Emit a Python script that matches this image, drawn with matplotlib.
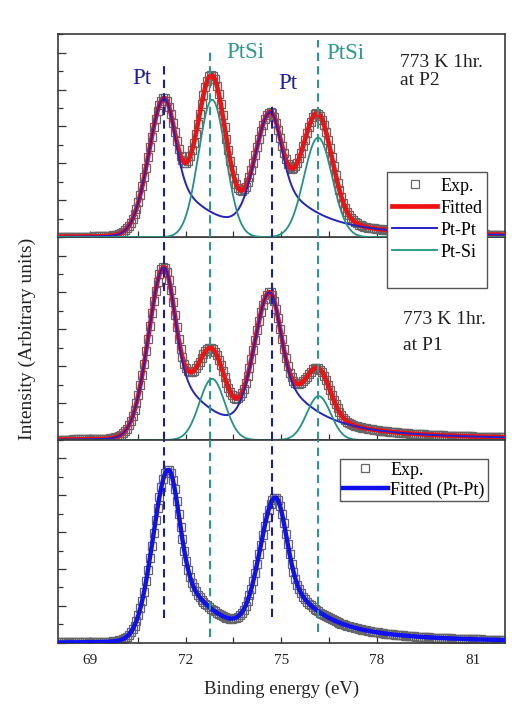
import numpy as np
import matplotlib.pyplot as plt
from matplotlib.lines import Line2D
from matplotlib.ticker import MultipleLocator, FixedLocator, NullFormatter

plt.rcParams['font.family'] = ['Liberation Serif', 'DejaVu Serif']

# binding energy grid of the measured spectra (eV)
energy = np.arange(68.0, 82.001, 0.06)

# Pt-Pt doublet (4f7/2, 4f5/2) per panel, top to bottom
ptpt_centers = [[71.33, 74.66], [71.32, 74.64], [71.46, 74.82]]
ptpt_heights = [[3.76, 3.19], [4.68, 3.76], [4.69, 3.70]]
# Pt-Si doublet, only in the two annealed panels (top, middle)
ptsi_centers = [[72.83, 76.15], [72.83, 76.17]]
ptsi_heights = [[3.73, 2.70], [1.66, 1.19]]
ptsi_hwhm = [[0.50, 0.52], [0.47, 0.44]]

# shape of the metallic Pt lines (half widths in eV, tail weight)
pt_left_hwhm = 0.57
pt_right_hwhm = 0.38
pt_tail_hwhm = 1.3
pt_tail_frac = 0.40
pt_left_lor = 0.06

pt_lines = [71.33, 74.70]
ptsi_lines = [72.77, 76.15]
panel_text = [["773 K 1hr.", "at P2"], ["773 K 1hr.", "at P1"]]

c_red = '#f01212'
c_ptpt = '#2323c8'
c_ptsi = '#1f9484'
c_fit0 = '#1010f0'
c_dash_pt = '#1c1ca8'
c_dash_si = '#2c9a8a'
c_exp = '#666666'


def pt_line(x, c, h):
    d = x - c
    left = (1 - pt_left_lor) * np.exp(-np.log(2) * (d / pt_left_hwhm) ** 2) \
        + pt_left_lor / (1 + (d / pt_left_hwhm) ** 2)
    right = (1 - pt_tail_frac) * np.exp(-np.log(2) * (d / pt_right_hwhm) ** 2) \
        + pt_tail_frac / (1 + (d / pt_tail_hwhm) ** 2)
    return h * np.where(d < 0, left, right)


def si_line(x, c, h, w):
    return h * np.exp(-np.log(2) * ((x - c) / w) ** 2)


fig = plt.figure(figsize=(5.22, 7.28), dpi=100)
axes = fig.subplots(3, 1, sharex=True)
fig.subplots_adjust(left=0.111, right=0.967, top=0.953, bottom=0.117, hspace=0)

for i, ax in enumerate(axes):
    ptpt = sum(pt_line(energy, c, h) for c, h in zip(ptpt_centers[i], ptpt_heights[i]))
    if i < 2:
        ptsi = sum(si_line(energy, c, h, w)
                   for c, h, w in zip(ptsi_centers[i], ptsi_heights[i], ptsi_hwhm[i]))
        fitted = ptpt + ptsi
        ax.plot(energy, fitted, 's', mfc='none', mec=c_exp, ms=6, mew=0.9, label='Exp.', zorder=2)
        ax.plot(energy, fitted, color=c_red, lw=3.4, label='Fitted', zorder=3)
        ax.plot(energy, ptpt, color=c_ptpt, lw=1.4, label='Pt-Pt', zorder=4)
        ax.plot(energy, ptsi, color=c_ptsi, lw=1.3, label='Pt-Si', zorder=4)
    else:
        ax.plot(energy, ptpt, 's', mfc='none', mec=c_exp, ms=6, mew=0.9, label='Exp.', zorder=2)
        ax.plot(energy, ptpt, color=c_fit0, lw=3.2, label='Fitted (Pt-Pt)', zorder=3)

    ax.set_ylim(0, 5.5)
    ax.yaxis.set_major_locator(MultipleLocator(1))
    ax.yaxis.set_minor_locator(MultipleLocator(0.5))
    ax.yaxis.set_major_formatter(NullFormatter())
    ax.tick_params(axis='y', which='major', direction='in', length=5.5, width=0.9, color='#333333')
    ax.tick_params(axis='y', which='minor', direction='in', length=3.5, width=0.9, color='#333333')
    ax.tick_params(axis='x', which='both', direction='in', length=4, width=0.9, color='#333333')
    for s in ax.spines.values():
        s.set_color('#3a3a3a')
        s.set_linewidth(1.2)

# dashed guide lines run through all panels
tops = {71.33: 0.847, 72.77: 0.92, 74.70: 0.66, 76.15: 0.97}
bots = {71.33: 0.124, 72.77: 0.03, 74.70: 0.129, 76.15: 0.054}
for xv in pt_lines + ptsi_lines:
    col = c_dash_pt if xv in pt_lines else c_dash_si
    kw = dict(color=col, lw=1.5, ls=(0, (4, 2.5)), zorder=6)
    axes[0].axvline(xv, 0, tops[xv], **kw)
    axes[1].axvline(xv, 0, 1, **kw)
    axes[2].axvline(xv, bots[xv], 1, **kw)

axes[2].set_xlim(68, 82)
for ax in axes[:2]:
    ax.xaxis.set_major_locator(FixedLocator([70, 72.5, 75, 77.5, 80]))
    ax.tick_params(axis='x', labelbottom=False)
axes[2].xaxis.set_major_locator(FixedLocator([69, 72, 75, 78, 81]))
axes[2].xaxis.set_minor_locator(FixedLocator([70.5, 73.5, 76.5, 79.5]))
axes[2].tick_params(axis='x', labelsize=11, pad=8, labelcolor='#222222')

# peak labels
axes[0].text(70.62, 4.30, 'Pt', color=c_dash_pt, fontsize=16.5, ha='center', va='center')
axes[0].text(75.20, 4.16, 'Pt', color=c_dash_pt, fontsize=16.5, ha='center', va='center')
axes[0].text(73.86, 5.00, 'PtSi', color=c_dash_si, fontsize=16.5, ha='center', va='center')
axes[0].text(76.99, 4.97, 'PtSi', color=c_dash_si, fontsize=16.5, ha='center', va='center')

# sample annotations
axes[0].text(78.71, 4.73, panel_text[0][0], fontsize=14, ha='left', va='center', color='#222222')
axes[0].text(78.71, 4.24, panel_text[0][1], fontsize=14, ha='left', va='center', color='#222222')
axes[1].text(78.81, 3.27, panel_text[1][0], fontsize=14, ha='left', va='center', color='#222222')
axes[1].text(78.81, 2.56, panel_text[1][1], fontsize=14, ha='left', va='center', color='#222222')

# legends
h0, l0 = axes[0].get_legend_handles_labels()
h0.append(Line2D([], [], ls='none'))
l0.append(' ')
leg0 = axes[0].legend(h0, l0, loc='upper left', bbox_to_anchor=(0.736, 0.32), fontsize=13,
                      frameon=True, fancybox=False, edgecolor='#555555', framealpha=1,
                      handlelength=2.5, handletextpad=0.15, labelspacing=0.28,
                      borderpad=0.3, borderaxespad=0, numpoints=1)
leg0.get_frame().set_linewidth(1.0)
axes[0].set_zorder(5)

leg2 = axes[2].legend(loc='upper left', bbox_to_anchor=(0.631, 0.906), fontsize=13,
                      frameon=True, fancybox=False, edgecolor='#555555', framealpha=1,
                      handlelength=2.5, handletextpad=0.15, labelspacing=0.15,
                      borderpad=0.15, borderaxespad=0, numpoints=1)
leg2.get_frame().set_linewidth(1.0)

axes[2].set_xlabel('Binding energy (eV)', fontsize=13.5, labelpad=10, color='#222222')
axes[1].set_ylabel('Intensity (Arbitrary units)', fontsize=14, labelpad=12, color='#222222')

fig.savefig('out.png', dpi=100)
